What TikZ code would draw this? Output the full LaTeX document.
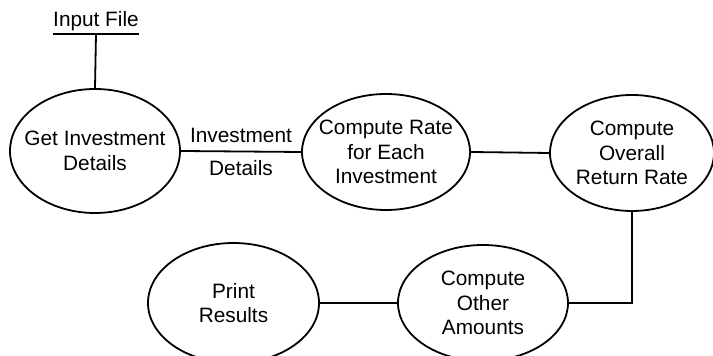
\documentclass[tikz,border=0pt]{standalone}
\usepackage{fontspec}
\setmainfont{Liberation Sans}
\usetikzlibrary{shapes.geometric}

\begin{document}
\begin{tikzpicture}[
  x=0.5pt, y=-0.5pt,
  font=\fontsize{10.4}{12.2}\selectfont,
  proc/.style={draw, ellipse, line width=0.9pt, align=center, inner sep=-12pt,
               minimum width=85pt, minimum height=60pt},
  flow/.style={line width=0.9pt},
  lbl/.style={inner sep=1pt}
]
\useasboundingbox (0,0) rectangle (713,356);

% ============ SOURCE ============
\node[anchor=base, inner xsep=0pt, inner ysep=1.2pt] (infile) at (96,27) {Input File};
\draw[flow] (infile.south west) -- (infile.south east);

% ============ TOP ROW ============
\node[proc, minimum height=62pt] (getinv) at (95,151) {Get Investment\\Details};
\node[proc, minimum width=84pt, minimum height=58pt] (rate) at (386,152) {Compute Rate\\for Each\\Investment};
\node[proc, minimum width=82pt, minimum height=58pt] (overall) at (632,153) {Compute\\Overall\\Return Rate};

% ============ BOTTOM ROW ============
\node[proc, minimum width=85.5pt, minimum height=60pt] (print) at (233.5,303) {Print\\Results};
\node[proc, minimum height=58pt] (other) at (483,303) {Compute\\Other\\Amounts};

% ============ CONNECTORS ============
\draw[flow] (infile.south) -- (getinv.north);
\draw[flow] (getinv.east) -- (rate.west)
  node[pos=0.5, lbl, above=3pt] {Investment}
  node[pos=0.5, lbl, below=3pt] {Details};
\draw[flow] (rate.east) -- (overall.west);
\draw[flow] (overall.south) |- (other.east);
\draw[flow] (other.west) -- (print.east);

\end{tikzpicture}
\end{document}
